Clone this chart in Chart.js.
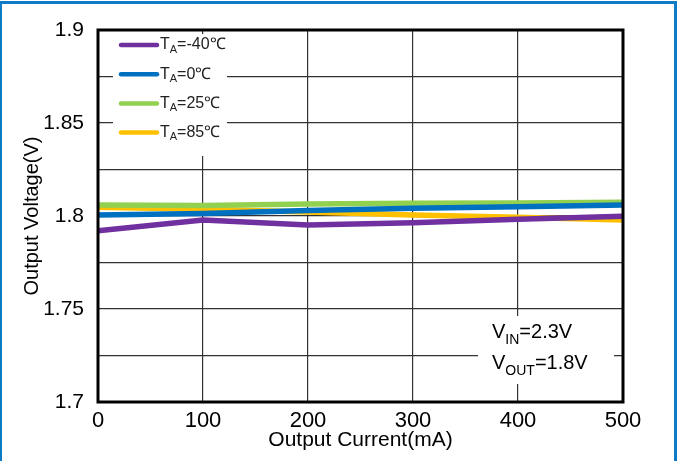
<!DOCTYPE html>
<html>
<head>
<meta charset="utf-8">
<script src="https://cdn.jsdelivr.net/npm/chart.js@4.4.1/dist/chart.umd.min.js"></script>
<style>
  html, body { margin: 0; padding: 0; background: #fff; }
  #wrap { position: relative; width: 680px; height: 461px; }
  #frame { position: absolute; left: 0; top: 1px; width: 672px; height: 470px;
           border-top: 3px solid #0e7bc6; border-left: 2px solid #0e7bc6; border-right: 3px solid #0e7bc6; }
</style>
</head>
<body>
<div id="wrap">
  <canvas id="chart" width="680" height="461"></canvas>
  <div id="frame"></div>
</div>
<script>
// output current (mA)
const currents = [0, 100, 200, 300, 400, 500];
// output voltage (V) per temperature
const vMinus40 = [1.7921, 1.7978, 1.7952, 1.7964, 1.7982, 1.7998];
const v0 = [1.8005, 1.8014, 1.8030, 1.8041, 1.8050, 1.8059];
const v25 = [1.8059, 1.8057, 1.8065, 1.8068, 1.8070, 1.8074];
const v85 = [1.8047, 1.8036, 1.8022, 1.8005, 1.7993, 1.7978];
const seriesNames = ['-40℃', '0℃', '25℃', '85℃'];
const seriesColors = ['#7030a0', '#0070c0', '#92d050', '#ffc000'];
const yTickLabels = ['1.7', '1.75', '1.8', '1.85', '1.9'];

const FONT = 'Arial, "Liberation Sans", sans-serif';

function mkSet(i, vals) {
    return {
        label: 'TA=' + seriesNames[i],
        data: currents.map((c, k) => ({x: c, y: vals[k]})),
        borderColor: seriesColors[i],
        borderWidth: 5.5,
        pointRadius: 0,
        tension: 0,
        fill: false
    };
}

// draws text with subscript, returns end x
function subText(ctx, x, y, main, sub, rest, size, drop) {
    ctx.font = size + 'px ' + FONT;
    ctx.fillText(main, x, y);
    x += ctx.measureText(main).width;
    ctx.font = Math.round(size * 0.68) + 'px ' + FONT;
    ctx.fillText(sub, x, y + size * drop);
    x += ctx.measureText(sub).width;
    ctx.font = size + 'px ' + FONT;
    ctx.fillText(rest, x, y);
    return x + ctx.measureText(rest).width;
}

const boxes = {
    id: 'boxes',
    beforeDatasetsDraw(chart) {
        const ctx = chart.ctx;
        ctx.save();
        ctx.fillStyle = '#fff';
        ctx.fillRect(113, 34, 114, 122);
        ctx.fillRect(478, 316, 136, 68);
        ctx.restore();
    },
    afterDraw(chart) {
        const ctx = chart.ctx;
        const a = chart.chartArea;
        ctx.save();
        // heavy frame
        ctx.strokeStyle = '#000';
        ctx.lineWidth = 3;
        ctx.strokeRect(a.left, a.top, a.right - a.left, a.bottom - a.top);
        // legend
        ctx.textBaseline = 'middle';
        ctx.lineCap = 'round';
        seriesNames.forEach((n, i) => {
            const y = 45 + i * 29.2;
            ctx.strokeStyle = seriesColors[i];
            ctx.lineWidth = 4.5;
            ctx.beginPath();
            ctx.moveTo(121, y);
            ctx.lineTo(157, y);
            ctx.stroke();
            ctx.fillStyle = '#222';
            subText(ctx, 160, y, 'T', 'A', '=' + n, 16, 0.3);
        });
        // conditions
        ctx.fillStyle = '#000';
        subText(ctx, 492, 332, 'V', 'IN', '=2.3V', 20, 0.42);
        subText(ctx, 492, 363, 'V', 'OUT', '=1.8V', 20, 0.42);
        ctx.restore();
    }
};

new Chart(document.getElementById('chart'), {
    type: 'line',
    data: {
        datasets: [mkSet(0, vMinus40), mkSet(1, v0), mkSet(2, v25), mkSet(3, v85)]
    },
    options: {
        responsive: false,
        animation: false,
        layout: { padding: { left: 20, top: 30, right: 57, bottom: 0 } },
        plugins: { legend: { display: false }, tooltip: { enabled: false } },
        scales: {
            x: {
                type: 'linear',
                min: 0, max: 500,
                ticks: { stepSize: 100, color: '#000', font: { family: FONT, size: 22 }, padding: 6, maxRotation: 0 },
                grid: { color: '#333', lineWidth: 1.2, drawTicks: false },
                border: { display: false },
                title: { display: true, text: 'Output Current(mA)', color: '#000', font: { family: FONT, size: 21 }, padding: { top: 0, bottom: 8 } },
                afterFit(s) { s.height = 59; }
            },
            y: {
                min: 1.7, max: 1.9,
                ticks: {
                    stepSize: 0.025, color: '#000', font: { family: FONT, size: 21 }, padding: 14,
                    callback: v => {
                        const s = (Math.round(v * 1000) / 1000).toString();
                        return yTickLabels.includes(s) ? s : '';
                    }
                },
                grid: { color: '#333', lineWidth: 1.2, drawTicks: false },
                border: { display: false },
                title: { display: true, text: 'Output Voltage(V)', color: '#000', font: { family: FONT, size: 20 }, padding: 0 },
                afterFit(s) { s.width = 78; }
            }
        }
    },
    plugins: [boxes]
});
</script>
</body>
</html>
